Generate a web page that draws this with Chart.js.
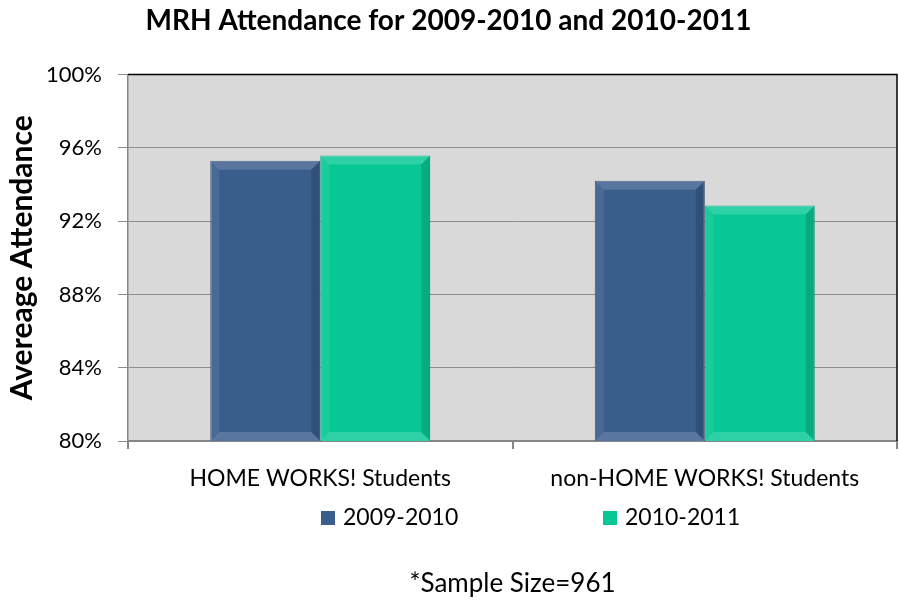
<!DOCTYPE html>
<html>
<head>
<meta charset="utf-8">
<script src="https://cdn.jsdelivr.net/npm/chart.js@4.4.1/dist/chart.umd.min.js"></script>
<style>
  html, body { margin: 0; padding: 0; background: #fff; }
</style>
</head>
<body>
<canvas id="chart" width="899" height="603"></canvas>
<script>
// data
const categories = ["HOME WORKS! Students", "non-HOME WORKS! Students"];
const seriesNames = ["2009-2010", "2010-2011"];
const values0910 = [95.3, 94.2];
const values1011 = [95.58, 92.86];
const yTicks = [80, 84, 88, 92, 96, 100];
const chartTitle = "MRH Attendance for 2009-2010 and 2010-2011";
const yTitle = "Avereage Attendance";
const sampleNote = "*Sample Size=961";

const FONT = "Lato, 'Open Sans', sans-serif";
const seriesColors = ["#3a5e8c", "#07c794"];
const seriesBorders = ["#2d4a70", "#05a97d"];

// legend item left edges (layout only)
const legendX = [321, 603];
const legendY = 518;

const plotFrame = {
  id: "plotFrame",
  beforeDraw(chart) {
    const { ctx, chartArea: a } = chart;
    ctx.save();
    ctx.fillStyle = "#d9d9d9";
    ctx.fillRect(a.left, a.top, a.right - a.left, a.bottom - a.top);
    ctx.restore();
  },
  afterDatasetsDraw(chart) {
    // fake the bevel on each bar
    const { ctx, chartArea: a } = chart;
    const b = 9;
    chart.data.datasets.forEach((ds, i) => {
      chart.getDatasetMeta(i).data.forEach((bar) => {
        const { x, y, base, width } = bar.getProps(["x", "y", "base", "width"], true);
        const l = x - width / 2, r = x + width / 2, t = y, btm = Math.min(base, a.bottom);
        const quad = (pts, fill) => {
          ctx.beginPath();
          ctx.moveTo(pts[0][0], pts[0][1]);
          pts.slice(1).forEach((p) => ctx.lineTo(p[0], p[1]));
          ctx.closePath();
          ctx.fillStyle = fill;
          ctx.fill();
        };
        ctx.save();
        quad([[l, t], [r, t], [r - b, t + b], [l + b, t + b]], "rgba(255,255,255,0.16)");
        quad([[l, t], [l + b, t + b], [l + b, btm - b], [l, btm]], "rgba(255,255,255,0.08)");
        quad([[r, t], [r - b, t + b], [r - b, btm - b], [r, btm]], "rgba(0,0,0,0.14)");
        quad([[l, btm], [l + b, btm - b], [r - b, btm - b], [r, btm]], "rgba(255,255,255,0.16)");
        ctx.restore();
      });
    });
  },
  afterDraw(chart) {
    const { ctx, chartArea: a } = chart;
    ctx.save();
    ctx.strokeStyle = "#000";
    ctx.lineWidth = 1.5;
    ctx.beginPath();
    ctx.moveTo(a.left, a.top);
    ctx.lineTo(a.right, a.top);
    ctx.lineTo(a.right, a.bottom);
    ctx.stroke();

    // legend
    ctx.font = "23px " + FONT;
    ctx.textBaseline = "middle";
    ctx.textAlign = "left";
    chart.data.datasets.forEach((ds, i) => {
      const x0 = legendX[i];
      ctx.fillStyle = ds.backgroundColor;
      ctx.fillRect(x0, legendY - 7, 14, 14);
      ctx.fillStyle = "#000";
      ctx.fillText(ds.label, x0 + 22, legendY);
    });

    // footnote, centred under the plot
    ctx.font = "26px " + FONT;
    ctx.textAlign = "center";
    ctx.fillText(sampleNote, (a.left + a.right) / 2, 584);
    ctx.restore();
  },
};

new Chart(document.getElementById("chart"), {
  type: "bar",
  data: {
    labels: categories,
    datasets: [
      {
        label: seriesNames[0],
        data: values0910,
        backgroundColor: seriesColors[0],
        borderColor: seriesBorders[0],
        borderWidth: 1,
      },
      {
        label: seriesNames[1],
        data: values1011,
        backgroundColor: seriesColors[1],
        borderColor: seriesBorders[1],
        borderWidth: 1,
      },
    ],
  },
  options: {
    responsive: false,
    animation: false,
    devicePixelRatio: 1,
    categoryPercentage: 0.572,
    barPercentage: 1,
    layout: { padding: { left: 0, right: 2, top: 0, bottom: 102 } },
    plugins: {
      legend: { display: false },
      tooltip: { enabled: false },
      title: {
        display: true,
        text: chartTitle,
        color: "#000",
        font: { family: FONT, size: 28, weight: "bold" },
        padding: { top: 4, bottom: 37 },
      },
    },
    scales: {
      x: {
        afterFit: (s) => { s.height = 60; },
        grid: {
          drawOnChartArea: false,
          drawTicks: true,
          tickLength: 8,
          color: "#868686",
          lineWidth: 2,
        },
        border: { color: "#868686", width: 2 },
        ticks: {
          color: "#000",
          padding: 16,
          font: { family: FONT, size: 23 },
        },
      },
      y: {
        min: 80,
        max: 100,
        afterFit: (s) => { s.width = 128; },
        afterBuildTicks: (s) => { s.ticks = yTicks.map((v) => ({ value: v })); },
        grid: { color: "#8c8c8c", lineWidth: 1, tickLength: 10 },
        border: { color: "#868686", width: 1.5 },
        ticks: {
          color: "#000",
          padding: 16,
          font: { family: FONT, size: 22 },
          callback: (v) => v + "%",
        },
        title: {
          display: true,
          text: yTitle,
          color: "#000",
          font: { family: FONT, size: 30, weight: "bold" },
          padding: { top: 4, bottom: 0 },
        },
      },
    },
  },
  plugins: [plotFrame],
});
</script>
</body>
</html>
